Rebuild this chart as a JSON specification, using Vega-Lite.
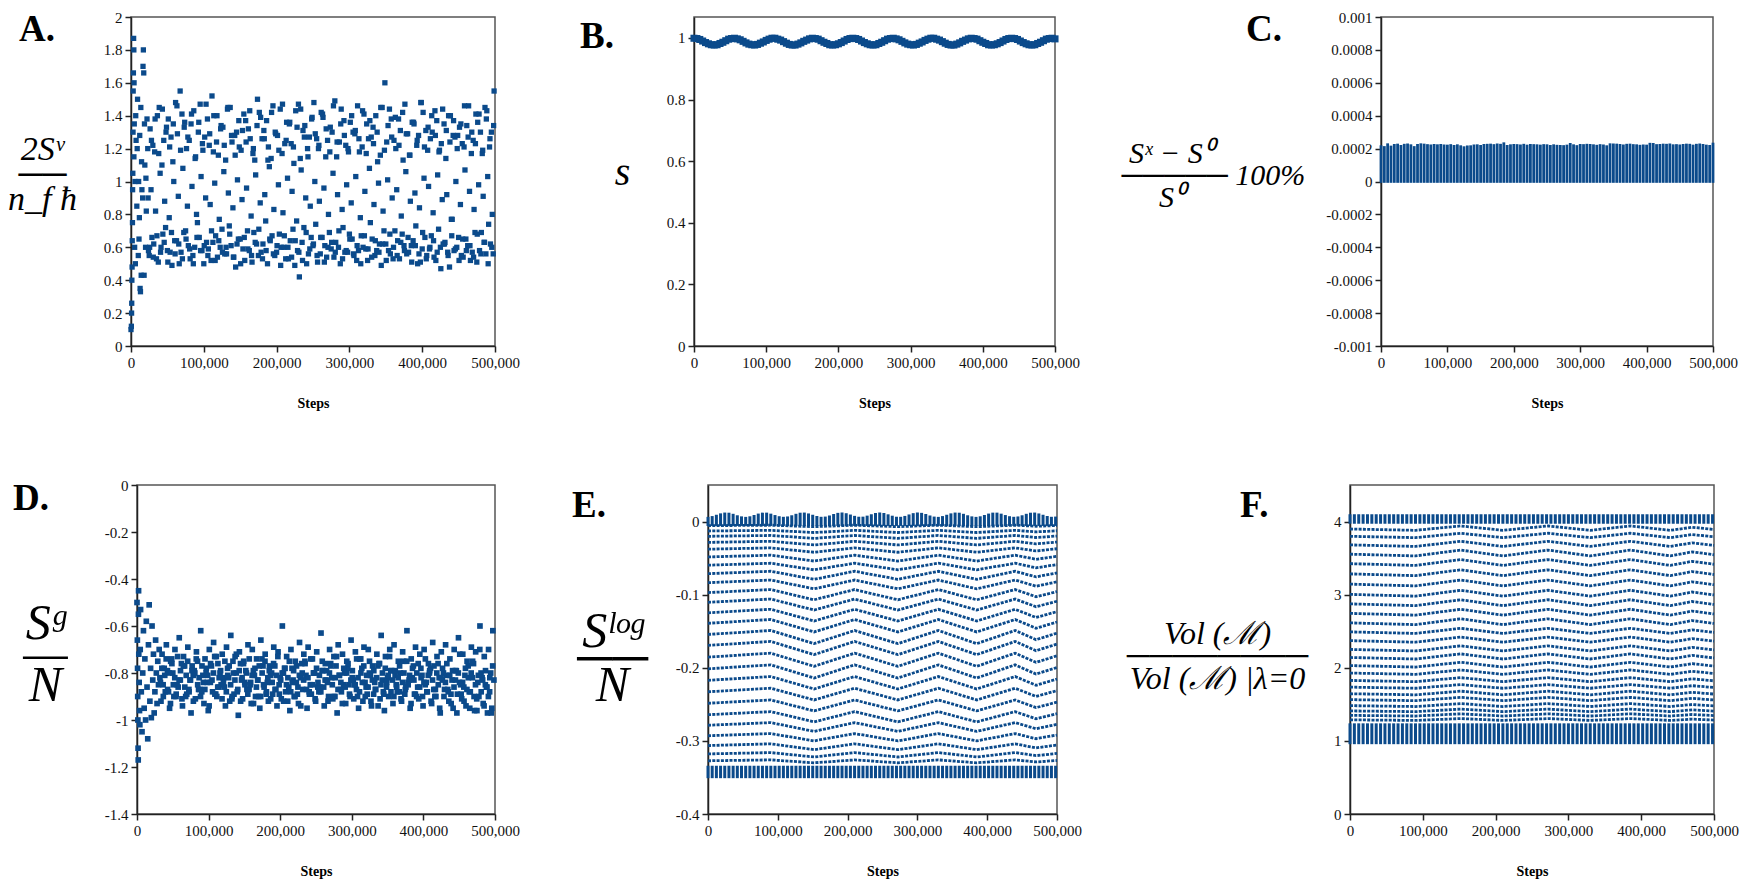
{
"$schema":"https://vega.github.io/schema/vega-lite/v6.json",
"background":"white",
"padding":{"left":0,"top":9,"right":0,"bottom":0},
"spacing":66,
"config":{
 "font":"Liberation Serif",
 "view":{"stroke":"#555","strokeWidth":1.5},
 "axis":{"grid":false,"domainColor":"#222","domainWidth":1.5,"tickColor":"#222","tickWidth":1.5,"tickSize":6,"labelFont":"Liberation Serif","labelFontSize":15,"labelColor":"#111","labelPadding":3,"labelFlush":false,"labelOverlap":false,"labelBound":false,"titleColor":"#000"},
 "axisX":{"titleFont":"Liberation Serif","titleFontWeight":"bold","titleFontSize":14,"titleY":61,"titleBaseline":"alphabetic"},
 "axisY":{"titleAngle":0,"titleFont":"Liberation Serif","titleFontWeight":"normal","titleFontStyle":"italic","titleAlign":"center","titleBaseline":"alphabetic"},
 "title":{"font":"Liberation Serif","fontWeight":"bold","fontSize":37,"anchor":"start","frame":"group","offset":0,"baseline":"alphabetic","color":"#000"},
 "square":{"color":"#0b4a8b","opacity":1},
 "rule":{"color":"#0b4a8b"},
 "line":{"color":"#0b4a8b"}
},
"datasets":{
"a":[{"x":0,"y":0.1},{"x":500,"y":0.12},{"x":800,"y":0.2},{"x":1000,"y":0.26},{"x":1200,"y":0.4},{"x":1500,"y":0.48},{"x":1700,"y":0.64},{"x":2000,"y":0.75},{"x":2200,"y":0.95},{"x":2500,"y":1.05},{"x":2800,"y":1.3},{"x":3000,"y":1.55},{"x":3300,"y":1.66},{"x":3600,"y":1.87},{"x":3900,"y":1.8},{"x":4000,"y":1.15},{"x":4200,"y":1.6},{"x":4500,"y":1.35},{"x":5000,"y":0.6},{"x":5500,"y":1.0},{"x":6000,"y":0.5},{"x":6500,"y":1.4},{"x":7000,"y":1.25},{"x":8000,"y":0.85},{"x":8500,"y":1.2},{"x":9000,"y":1.5},{"x":10000,"y":0.55},{"x":10500,"y":1.0},{"x":11000,"y":0.65},{"x":11500,"y":0.78},{"x":12000,"y":1.28},{"x":12500,"y":0.35},{"x":13000,"y":0.33},{"x":13500,"y":1.45},{"x":14000,"y":0.43},{"x":14500,"y":1.12},{"x":15000,"y":0.95},{"x":16000,"y":0.9},{"x":16500,"y":1.7},{"x":17000,"y":1.8},{"x":17500,"y":1.66},{"x":18000,"y":0.43},{"x":18500,"y":1.35},{"x":19000,"y":1.1},{"x":20000,"y":0.6},{"x":20500,"y":1.02},{"x":21000,"y":0.82},{"x":22000,"y":1.38},{"x":23000,"y":1.2},{"x":23500,"y":0.9},{"x":24000,"y":0.58},
{"x":25000,"y":0.55},{"x":26250,"y":1.32},{"x":27500,"y":0.95},{"x":28750,"y":0.66},{"x":30000,"y":1.22},
{"x":31250,"y":0.62},{"x":32500,"y":1.18},{"x":33750,"y":0.82},{"x":35000,"y":0.53},{"x":36250,"y":1.4},
{"x":37500,"y":0.51},{"x":38750,"y":1.45},{"x":40000,"y":1.05},{"x":41250,"y":0.6},{"x":42500,"y":1.1},
{"x":43750,"y":0.68},{"x":45000,"y":1.25},{"x":46250,"y":0.88},{"x":47500,"y":0.72},{"x":48750,"y":1.33},
{"x":50000,"y":0.58},{"x":51250,"y":1.38},{"x":52500,"y":0.78},{"x":53750,"y":0.57},{"x":55000,"y":1.27},
{"x":56250,"y":0.49},{"x":57500,"y":1.12},{"x":58750,"y":1.0},{"x":60000,"y":0.64},{"x":61250,"y":1.48},
{"x":62500,"y":0.64},{"x":63750,"y":1.29},{"x":65000,"y":0.91},{"x":66250,"y":0.5},{"x":67500,"y":1.55},
{"x":68750,"y":0.57},{"x":70000,"y":1.41},{"x":71250,"y":1.08},{"x":72500,"y":0.69},{"x":73750,"y":1.36},
{"x":75000,"y":0.7},{"x":76250,"y":1.2},{"x":77500,"y":0.85},{"x":78750,"y":0.61},{"x":80000,"y":1.25},
{"x":81250,"y":0.53},{"x":82500,"y":1.35},{"x":83750,"y":0.97},{"x":85000,"y":0.55},{"x":86250,"y":1.43},
{"x":87500,"y":0.6},{"x":88750,"y":1.15},{"x":90000,"y":0.8},{"x":91250,"y":0.75},{"x":92500,"y":1.3},
{"x":93750,"y":0.66},{"x":95000,"y":1.47},{"x":96250,"y":1.03},{"x":97500,"y":0.58},{"x":98750,"y":1.19},
{"x":100000,"y":0.5},{"x":101250,"y":1.27},{"x":102500,"y":0.9},{"x":103750,"y":0.63},{"x":105000,"y":1.38},
{"x":106250,"y":0.59},{"x":107500,"y":1.22},{"x":108750,"y":0.86},{"x":110000,"y":0.52},{"x":111250,"y":1.52},
{"x":112500,"y":0.63},{"x":113750,"y":1.4},{"x":115000,"y":0.99},{"x":116250,"y":0.67},{"x":117500,"y":1.24},
{"x":118750,"y":0.54},{"x":120000,"y":1.16},{"x":121250,"y":0.77},{"x":122500,"y":0.6},{"x":123750,"y":1.34},
{"x":125000,"y":0.71},{"x":126250,"y":1.33},{"x":127500,"y":1.06},{"x":128750,"y":0.56},{"x":130000,"y":1.13},
{"x":131250,"y":0.56},{"x":132500,"y":1.44},{"x":133750,"y":0.93},{"x":135000,"y":0.73},{"x":136250,"y":1.45},
{"x":137500,"y":0.61},{"x":138750,"y":1.24},{"x":140000,"y":0.84},{"x":141250,"y":0.54},{"x":142500,"y":1.28},
{"x":143750,"y":0.48},{"x":145000,"y":1.3},{"x":146250,"y":1.01},{"x":147500,"y":0.65},{"x":148750,"y":1.21},
{"x":150000,"y":0.65},{"x":151250,"y":1.19},{"x":152500,"y":0.89},{"x":153750,"y":0.59},{"x":155000,"y":1.41},
{"x":156250,"y":0.52},{"x":157500,"y":1.37},{"x":158750,"y":0.96},{"x":160000,"y":0.7},{"x":161250,"y":1.32},
{"x":162500,"y":0.58},{"x":163750,"y":1.26},{"x":165000,"y":0.79},{"x":166250,"y":0.51},{"x":167500,"y":1.17},
{"x":168750,"y":0.69},{"x":170000,"y":1.13},{"x":171250,"y":1.04},{"x":172500,"y":0.62},{"x":173750,"y":1.5},
{"x":175000,"y":0.55},{"x":176250,"y":1.42},{"x":177500,"y":0.87},{"x":178750,"y":0.57},{"x":180000,"y":1.26},
{"x":181250,"y":0.62},{"x":182500,"y":1.31},{"x":183750,"y":0.92},{"x":185000,"y":0.76},{"x":186250,"y":1.37},
{"x":187500,"y":0.5},{"x":188750,"y":1.21},{"x":190000,"y":1.09},{"x":191250,"y":0.64},{"x":192500,"y":1.14},
{"x":193750,"y":0.67},{"x":195000,"y":1.46},{"x":196250,"y":0.83},{"x":197500,"y":0.55},{"x":198750,"y":1.29},
{"x":200000,"y":0.57},{"x":201250,"y":1.28},{"x":202500,"y":0.98},{"x":203750,"y":0.68},{"x":205000,"y":1.44},
{"x":206250,"y":0.6},{"x":207500,"y":1.17},{"x":208750,"y":0.81},{"x":210000,"y":0.6},{"x":211250,"y":1.23},
{"x":212500,"y":0.53},{"x":213750,"y":1.36},{"x":215000,"y":1.02},{"x":216250,"y":0.53},{"x":217500,"y":1.35},
{"x":218750,"y":0.64},{"x":220000,"y":1.23},{"x":221250,"y":0.94},{"x":222500,"y":0.71},{"x":223750,"y":1.11},
{"x":225000,"y":0.49},{"x":226250,"y":1.43},{"x":227500,"y":0.76},{"x":228750,"y":0.58},{"x":230000,"y":1.47},
{"x":231250,"y":0.42},{"x":232500,"y":1.14},{"x":233750,"y":1.07},{"x":235000,"y":0.63},{"x":236250,"y":1.31},
{"x":237500,"y":0.72},{"x":238750,"y":1.34},{"x":240000,"y":0.9},{"x":241250,"y":0.5},{"x":242500,"y":1.2},
{"x":243750,"y":0.56},{"x":245000,"y":1.27},{"x":246250,"y":0.85},{"x":247500,"y":0.66},{"x":248750,"y":1.39},
{"x":250000,"y":0.61},{"x":251250,"y":1.48},{"x":252500,"y":1.0},{"x":253750,"y":0.74},{"x":255000,"y":1.26},
{"x":256250,"y":0.51},{"x":257500,"y":1.2},{"x":258750,"y":0.88},{"x":260000,"y":0.56},{"x":261250,"y":1.42},
{"x":262500,"y":0.66},{"x":263750,"y":1.39},{"x":265000,"y":0.96},{"x":266250,"y":0.61},{"x":267500,"y":1.15},
{"x":268750,"y":0.54},{"x":270000,"y":1.25},{"x":271250,"y":0.8},{"x":272500,"y":0.69},{"x":273750,"y":1.33},
{"x":275000,"y":0.59},{"x":276250,"y":1.3},{"x":277500,"y":1.05},{"x":278750,"y":0.54},{"x":280000,"y":1.49},
{"x":281250,"y":0.63},{"x":282500,"y":1.15},{"x":283750,"y":0.92},{"x":285000,"y":0.6},{"x":286250,"y":1.24},
{"x":287500,"y":0.5},{"x":288750,"y":1.44},{"x":290000,"y":0.83},{"x":291250,"y":0.72},{"x":292500,"y":1.37},
{"x":293750,"y":0.57},{"x":295000,"y":1.22},{"x":296250,"y":0.98},{"x":297500,"y":0.57},{"x":298750,"y":1.18},
{"x":300000,"y":0.68},{"x":301250,"y":1.36},{"x":302500,"y":0.87},{"x":303750,"y":0.65},{"x":305000,"y":1.3},
{"x":306250,"y":0.55},{"x":307500,"y":1.29},{"x":308750,"y":1.03},{"x":310000,"y":0.52},{"x":311250,"y":1.46},
{"x":312500,"y":0.58},{"x":313750,"y":1.18},{"x":315000,"y":0.78},{"x":316250,"y":0.67},{"x":317500,"y":1.21},
{"x":318750,"y":0.6},{"x":320000,"y":1.41},{"x":321250,"y":0.94},{"x":322500,"y":0.59},{"x":323750,"y":1.35},
{"x":325000,"y":0.52},{"x":326250,"y":1.26},{"x":327500,"y":1.08},{"x":328750,"y":0.75},{"x":330000,"y":1.27},
{"x":331250,"y":0.65},{"x":332500,"y":1.33},{"x":333750,"y":0.86},{"x":335000,"y":0.55},{"x":336250,"y":1.4},
{"x":337500,"y":0.58},{"x":338750,"y":1.12},{"x":340000,"y":0.99},{"x":341250,"y":0.62},{"x":342500,"y":1.16},
{"x":343750,"y":0.49},{"x":345000,"y":1.45},{"x":346250,"y":0.82},{"x":347500,"y":0.7},{"x":348750,"y":1.6},
{"x":350000,"y":0.62},{"x":351250,"y":1.24},{"x":352500,"y":1.01},{"x":353750,"y":0.58},{"x":355000,"y":1.44},
{"x":356250,"y":0.56},{"x":357500,"y":1.38},{"x":358750,"y":0.9},{"x":360000,"y":0.53},{"x":361250,"y":1.25},
{"x":362500,"y":0.7},{"x":363750,"y":1.2},{"x":365000,"y":0.95},{"x":366250,"y":0.64},{"x":367500,"y":1.38},
{"x":368750,"y":0.53},{"x":370000,"y":1.31},{"x":371250,"y":0.79},{"x":372500,"y":0.68},{"x":373750,"y":1.13},
{"x":375000,"y":0.61},{"x":376250,"y":1.47},{"x":377500,"y":1.06},{"x":378750,"y":0.56},{"x":380000,"y":1.29},
{"x":381250,"y":0.57},{"x":382500,"y":1.16},{"x":383750,"y":0.88},{"x":385000,"y":0.61},{"x":386250,"y":1.36},
{"x":387500,"y":0.64},{"x":388750,"y":1.35},{"x":390000,"y":0.93},{"x":391250,"y":0.73},{"x":392500,"y":1.22},
{"x":393750,"y":0.5},{"x":395000,"y":1.28},{"x":396250,"y":0.84},{"x":397500,"y":0.51},{"x":398750,"y":1.48},
{"x":400000,"y":0.59},{"x":401250,"y":1.42},{"x":402500,"y":1.02},{"x":403750,"y":0.66},{"x":405000,"y":1.31},
{"x":406250,"y":0.55},{"x":407500,"y":1.19},{"x":408750,"y":0.97},{"x":410000,"y":0.59},{"x":411250,"y":1.26},
{"x":412500,"y":0.67},{"x":413750,"y":1.3},{"x":415000,"y":0.81},{"x":416250,"y":0.54},{"x":417500,"y":1.43},
{"x":418750,"y":0.52},{"x":420000,"y":1.37},{"x":421250,"y":1.04},{"x":422500,"y":0.71},{"x":423750,"y":1.19},
{"x":425000,"y":0.6},{"x":426250,"y":1.23},{"x":427500,"y":0.89},{"x":428750,"y":0.62},{"x":430000,"y":1.35},
{"x":431250,"y":0.63},{"x":432500,"y":1.14},{"x":433750,"y":0.92},{"x":435000,"y":0.57},{"x":436250,"y":1.4},
{"x":437500,"y":0.48},{"x":438750,"y":1.4},{"x":440000,"y":0.77},{"x":441250,"y":0.77},{"x":442500,"y":1.28},
{"x":443750,"y":0.58},{"x":445000,"y":1.27},{"x":446250,"y":1.0},{"x":447500,"y":0.6},{"x":448750,"y":1.28},
{"x":450000,"y":0.66},{"x":451250,"y":1.33},{"x":452500,"y":0.86},{"x":453750,"y":0.55},{"x":455000,"y":1.23},
{"x":456250,"y":0.54},{"x":457500,"y":1.21},{"x":458750,"y":1.07},{"x":460000,"y":0.65},{"x":461250,"y":1.34},
{"x":462500,"y":0.61},{"x":463750,"y":1.46},{"x":465000,"y":0.94},{"x":466250,"y":0.52},{"x":467500,"y":1.17},
{"x":468750,"y":0.57},{"x":470000,"y":1.25},{"x":471250,"y":0.83},{"x":472500,"y":0.69},{"x":473750,"y":1.41},
{"x":475000,"y":0.51},{"x":476250,"y":1.36},{"x":477500,"y":0.98},{"x":478750,"y":0.58},{"x":480000,"y":1.3},
{"x":481250,"y":0.69},{"x":482500,"y":1.17},{"x":483750,"y":0.91},{"x":485000,"y":0.63},{"x":486250,"y":1.45},
{"x":487500,"y":0.56},{"x":488750,"y":1.43},{"x":490000,"y":1.03},{"x":491250,"y":0.74},{"x":492500,"y":1.21},
{"x":493750,"y":0.62},{"x":495000,"y":1.3},{"x":496250,"y":0.8},{"x":497500,"y":0.56},{"x":498750,"y":1.55},
{"x":25600,"y":0.6},{"x":28100,"y":1.25},{"x":30600,"y":0.54},{"x":33100,"y":1.38},{"x":35600,"y":0.67},{"x":38100,"y":1.17},{"x":40600,"y":0.57},{"x":43100,"y":1.44},{"x":45600,"y":0.63},{"x":48100,"y":1.3},
{"x":50600,"y":0.51},{"x":53100,"y":1.21},{"x":55600,"y":0.69},{"x":58100,"y":1.35},{"x":60600,"y":0.56},{"x":63100,"y":1.46},{"x":65600,"y":0.62},{"x":68100,"y":1.19},{"x":70600,"y":0.53},{"x":73100,"y":1.33},
{"x":75600,"y":0.65},{"x":78100,"y":1.27},{"x":80600,"y":0.59},{"x":83100,"y":1.41},{"x":85600,"y":0.5},{"x":88100,"y":1.14},{"x":90600,"y":0.66},{"x":93100,"y":1.36},{"x":95600,"y":0.58},{"x":98100,"y":1.23},
{"x":100600,"y":0.61},{"x":103100,"y":1.47},{"x":105600,"y":0.55},{"x":108100,"y":1.29},{"x":110600,"y":0.7},{"x":113100,"y":1.18},{"x":115600,"y":0.52},{"x":118100,"y":1.4},{"x":120600,"y":0.64},{"x":123100,"y":1.32},
{"x":125600,"y":0.57},{"x":128100,"y":1.22},{"x":130600,"y":0.6},{"x":133100,"y":1.45},{"x":135600,"y":0.68},{"x":138100,"y":1.28},{"x":140600,"y":0.54},{"x":143100,"y":1.16},{"x":145600,"y":0.62},{"x":148100,"y":1.37},
{"x":150600,"y":0.5},{"x":153100,"y":1.31},{"x":155600,"y":0.66},{"x":158100,"y":1.24},{"x":160600,"y":0.59},{"x":163100,"y":1.43},{"x":165600,"y":0.55},{"x":168100,"y":1.2},{"x":170600,"y":0.63},{"x":173100,"y":1.34},
{"x":175600,"y":0.71},{"x":178100,"y":1.39},{"x":180600,"y":0.53},{"x":183100,"y":1.26},{"x":185600,"y":0.58},{"x":188100,"y":1.13},{"x":190600,"y":0.65},{"x":193100,"y":1.42},{"x":195600,"y":0.56},{"x":198100,"y":1.3},
{"x":200600,"y":0.61},{"x":203100,"y":1.19},{"x":205600,"y":0.49},{"x":208100,"y":1.47},{"x":210600,"y":0.67},{"x":213100,"y":1.25},{"x":215600,"y":0.6},{"x":218100,"y":1.36},{"x":220600,"y":0.54},{"x":223100,"y":1.21},
{"x":225600,"y":0.64},{"x":228100,"y":1.33},{"x":230600,"y":0.57},{"x":233100,"y":1.44},{"x":235600,"y":0.52},{"x":238100,"y":1.27},{"x":240600,"y":0.69},{"x":243100,"y":1.15},{"x":245600,"y":0.59},{"x":248100,"y":1.38},
{"x":250600,"y":0.62},{"x":253100,"y":1.29},{"x":255600,"y":0.55},{"x":258100,"y":1.22},{"x":260600,"y":0.66},{"x":263100,"y":1.41},{"x":265600,"y":0.51},{"x":268100,"y":1.32},{"x":270600,"y":0.6},{"x":273100,"y":1.18},
{"x":275600,"y":0.63},{"x":278100,"y":1.46},{"x":280600,"y":0.57},{"x":283100,"y":1.24},{"x":285600,"y":0.7},{"x":288100,"y":1.35},{"x":290600,"y":0.53},{"x":293100,"y":1.28},{"x":295600,"y":0.58},{"x":298100,"y":1.2},
{"x":300600,"y":0.65},{"x":303100,"y":1.4},{"x":305600,"y":0.56},{"x":308100,"y":1.31},{"x":310600,"y":0.61},{"x":313100,"y":1.26},{"x":315600,"y":0.5},{"x":318100,"y":1.43},{"x":320600,"y":0.67},{"x":323100,"y":1.17},
{"x":325600,"y":0.59},{"x":328100,"y":1.37},{"x":330600,"y":0.54},{"x":333100,"y":1.23},{"x":335600,"y":0.64},{"x":338100,"y":1.3},{"x":340600,"y":0.57},{"x":343100,"y":1.45},{"x":345600,"y":0.62},{"x":348100,"y":1.19},
{"x":350600,"y":0.52},{"x":353100,"y":1.34},{"x":355600,"y":0.68},{"x":358100,"y":1.27},{"x":360600,"y":0.6},{"x":363100,"y":1.39},{"x":365600,"y":0.55},{"x":368100,"y":1.22},{"x":370600,"y":0.63},{"x":373100,"y":1.42},
{"x":375600,"y":0.58},{"x":378100,"y":1.29},{"x":380600,"y":0.66},{"x":383100,"y":1.16},{"x":385600,"y":0.51},{"x":388100,"y":1.36},{"x":390600,"y":0.61},{"x":393100,"y":1.25},{"x":395600,"y":0.56},{"x":398100,"y":1.48},
{"x":400600,"y":0.69},{"x":403100,"y":1.21},{"x":405600,"y":0.53},{"x":408100,"y":1.33},{"x":410600,"y":0.6},{"x":413100,"y":1.4},{"x":415600,"y":0.64},{"x":418100,"y":1.28},{"x":420600,"y":0.57},{"x":423100,"y":1.18},
{"x":425600,"y":0.47},{"x":428100,"y":1.44},{"x":430600,"y":0.62},{"x":433100,"y":1.31},{"x":435600,"y":0.55},{"x":438100,"y":1.24},{"x":440600,"y":0.67},{"x":443100,"y":1.37},{"x":445600,"y":0.59},{"x":448100,"y":1.2},
{"x":450600,"y":0.52},{"x":453100,"y":1.35},{"x":455600,"y":0.65},{"x":458100,"y":1.46},{"x":460600,"y":0.58},{"x":463100,"y":1.27},{"x":465600,"y":0.61},{"x":468100,"y":1.3},{"x":470600,"y":0.54},{"x":473100,"y":1.23},
{"x":475600,"y":0.68},{"x":478100,"y":1.41},{"x":480600,"y":0.56},{"x":483100,"y":1.19},{"x":485600,"y":0.63},{"x":488100,"y":1.38},{"x":490600,"y":0.5},{"x":493100,"y":1.26},{"x":495600,"y":0.6},{"x":498100,"y":1.34}],
"b":[{"x":0,"y":0.999},{"x":4000,"y":0.998},{"x":8000,"y":0.995},{"x":12000,"y":0.99},{"x":16000,"y":0.985},{"x":20000,"y":0.981},{"x":24000,"y":0.978},{"x":28000,"y":0.977},{"x":32000,"y":0.978},{"x":36000,"y":0.982},{"x":40000,"y":0.986},{"x":44000,"y":0.991},{"x":48000,"y":0.996},{"x":52000,"y":0.998},{"x":56000,"y":0.999},{"x":60000,"y":0.997},{"x":64000,"y":0.994},{"x":68000,"y":0.989},{"x":72000,"y":0.984},{"x":76000,"y":0.98},{"x":80000,"y":0.978},{"x":84000,"y":0.977},{"x":88000,"y":0.979},{"x":92000,"y":0.983},{"x":96000,"y":0.987},{"x":100000,"y":0.992},{"x":104000,"y":0.996},{"x":108000,"y":0.999},{"x":112000,"y":0.999},{"x":116000,"y":0.996},{"x":120000,"y":0.993},{"x":124000,"y":0.988},{"x":128000,"y":0.983},{"x":132000,"y":0.979},{"x":136000,"y":0.977},{"x":140000,"y":0.977},{"x":144000,"y":0.98},{"x":148000,"y":0.984},{"x":152000,"y":0.989},{"x":156000,"y":0.993},{"x":160000,"y":0.997},{"x":164000,"y":0.999},{"x":168000,"y":0.998},{"x":172000,"y":0.996},{"x":176000,"y":0.991},{"x":180000,"y":0.986},{"x":184000,"y":0.982},{"x":188000,"y":0.978},{"x":192000,"y":0.977},{"x":196000,"y":0.978},{"x":200000,"y":0.981},{"x":204000,"y":0.985},{"x":208000,"y":0.99},{"x":212000,"y":0.995},{"x":216000,"y":0.998},{"x":220000,"y":0.999},{"x":224000,"y":0.998},{"x":228000,"y":0.995},{"x":232000,"y":0.99},{"x":236000,"y":0.985},{"x":240000,"y":0.981},{"x":244000,"y":0.978},{"x":248000,"y":0.977},{"x":252000,"y":0.978},{"x":256000,"y":0.982},{"x":260000,"y":0.986},{"x":264000,"y":0.991},{"x":268000,"y":0.996},{"x":272000,"y":0.998},{"x":276000,"y":0.999},{"x":280000,"y":0.997},{"x":284000,"y":0.994},{"x":288000,"y":0.989},{"x":292000,"y":0.984},{"x":296000,"y":0.98},{"x":300000,"y":0.978},{"x":304000,"y":0.977},{"x":308000,"y":0.979},{"x":312000,"y":0.983},{"x":316000,"y":0.987},{"x":320000,"y":0.992},{"x":324000,"y":0.996},{"x":328000,"y":0.999},{"x":332000,"y":0.999},{"x":336000,"y":0.996},{"x":340000,"y":0.993},{"x":344000,"y":0.988},{"x":348000,"y":0.983},{"x":352000,"y":0.979},{"x":356000,"y":0.977},{"x":360000,"y":0.977},{"x":364000,"y":0.98},{"x":368000,"y":0.984},{"x":372000,"y":0.989},{"x":376000,"y":0.993},{"x":380000,"y":0.997},{"x":384000,"y":0.999},{"x":388000,"y":0.998},{"x":392000,"y":0.996},{"x":396000,"y":0.991},{"x":400000,"y":0.986},{"x":404000,"y":0.982},{"x":408000,"y":0.978},{"x":412000,"y":0.977},{"x":416000,"y":0.978},{"x":420000,"y":0.981},{"x":424000,"y":0.985},{"x":428000,"y":0.99},{"x":432000,"y":0.995},{"x":436000,"y":0.998},{"x":440000,"y":0.999},{"x":444000,"y":0.998},{"x":448000,"y":0.995},{"x":452000,"y":0.99},{"x":456000,"y":0.985},{"x":460000,"y":0.981},{"x":464000,"y":0.978},{"x":468000,"y":0.977},{"x":472000,"y":0.978},{"x":476000,"y":0.982},{"x":480000,"y":0.986},{"x":484000,"y":0.991},{"x":488000,"y":0.996},{"x":492000,"y":0.998},{"x":496000,"y":0.999},{"x":500000,"y":0.997}],
"c":[{"x":0,"y":0.00022},{"x":5000,"y":0.000215},{"x":10000,"y":0.000232},{"x":15000,"y":0.000218},{"x":20000,"y":0.000228},{"x":25000,"y":0.00023},{"x":30000,"y":0.000222},{"x":35000,"y":0.000229},{"x":40000,"y":0.000231},{"x":45000,"y":0.000226},{"x":50000,"y":0.000215},{"x":55000,"y":0.000228},{"x":60000,"y":0.000232},{"x":65000,"y":0.00023},{"x":70000,"y":0.000227},{"x":75000,"y":0.000225},{"x":80000,"y":0.000228},{"x":85000,"y":0.000226},{"x":90000,"y":0.000228},{"x":95000,"y":0.000225},{"x":100000,"y":0.000224},{"x":105000,"y":0.000227},{"x":110000,"y":0.000222},{"x":115000,"y":0.000226},{"x":120000,"y":0.00022},{"x":125000,"y":0.000214},{"x":130000,"y":0.000219},{"x":135000,"y":0.00022},{"x":140000,"y":0.000225},{"x":145000,"y":0.000226},{"x":150000,"y":0.000222},{"x":155000,"y":0.000228},{"x":160000,"y":0.000229},{"x":165000,"y":0.00023},{"x":170000,"y":0.000227},{"x":175000,"y":0.000231},{"x":180000,"y":0.000229},{"x":185000,"y":0.000238},{"x":190000,"y":0.000222},{"x":195000,"y":0.000226},{"x":200000,"y":0.000228},{"x":205000,"y":0.000227},{"x":210000,"y":0.000225},{"x":215000,"y":0.000229},{"x":220000,"y":0.000224},{"x":225000,"y":0.000228},{"x":230000,"y":0.000227},{"x":235000,"y":0.000226},{"x":240000,"y":0.000224},{"x":245000,"y":0.000227},{"x":250000,"y":0.000226},{"x":255000,"y":0.000222},{"x":260000,"y":0.000226},{"x":265000,"y":0.000223},{"x":270000,"y":0.000222},{"x":275000,"y":0.000221},{"x":280000,"y":0.000224},{"x":285000,"y":0.000234},{"x":290000,"y":0.000226},{"x":295000,"y":0.000221},{"x":300000,"y":0.000228},{"x":305000,"y":0.000227},{"x":310000,"y":0.000229},{"x":315000,"y":0.000228},{"x":320000,"y":0.000226},{"x":325000,"y":0.000223},{"x":330000,"y":0.000227},{"x":335000,"y":0.000225},{"x":340000,"y":0.00022},{"x":345000,"y":0.000232},{"x":350000,"y":0.000231},{"x":355000,"y":0.00023},{"x":360000,"y":0.000228},{"x":365000,"y":0.000225},{"x":370000,"y":0.000229},{"x":375000,"y":0.00023},{"x":380000,"y":0.000227},{"x":385000,"y":0.000226},{"x":390000,"y":0.000223},{"x":395000,"y":0.000225},{"x":400000,"y":0.000224},{"x":405000,"y":0.000235},{"x":410000,"y":0.000234},{"x":415000,"y":0.000227},{"x":420000,"y":0.000228},{"x":425000,"y":0.00023},{"x":430000,"y":0.000229},{"x":435000,"y":0.000231},{"x":440000,"y":0.000226},{"x":445000,"y":0.000227},{"x":450000,"y":0.000225},{"x":455000,"y":0.000228},{"x":460000,"y":0.00023},{"x":465000,"y":0.000229},{"x":470000,"y":0.000224},{"x":475000,"y":0.000229},{"x":480000,"y":0.000231},{"x":485000,"y":0.000228},{"x":490000,"y":0.000224},{"x":495000,"y":0.000222},{"x":500000,"y":0.000236}],
"d":[{"x":0,"y":-0.5},{"x":500,"y":-0.66},{"x":800,"y":-0.78},{"x":1000,"y":-0.9},{"x":1200,"y":-1.0},{"x":1500,"y":-1.12},{"x":1700,"y":-1.17},{"x":2000,"y":-0.55},{"x":2200,"y":-0.45},{"x":2500,"y":-0.72},{"x":3000,"y":-0.84},{"x":3500,"y":-0.96},{"x":4000,"y":-1.02},{"x":4500,"y":-0.7},{"x":5000,"y":-0.53},{"x":6000,"y":-0.88},{"x":7000,"y":-1.05},{"x":8000,"y":-0.8},{"x":9000,"y":-0.62},{"x":10000,"y":-0.95},{"x":11000,"y":-0.74},{"x":12000,"y":-1.0},{"x":13000,"y":-0.58},{"x":14000,"y":-0.86},{"x":15000,"y":-1.08},{"x":16000,"y":-0.68},{"x":17000,"y":-0.51},{"x":18000,"y":-0.92},{"x":19000,"y":-0.78},{"x":20000,"y":-0.99},{"x":21000,"y":-0.6},{"x":22000,"y":-0.83},{"x":23000,"y":-0.72},{"x":24000,"y":-0.97},{"x":25000,"y":-0.88},{"x":26000,"y":-0.66},{"x":27000,"y":-0.8},{"x":28000,"y":-0.93},{"x":29000,"y":-0.75},{"x":30000,"y":-0.85},{"x":31000,"y":-0.7},
{"x":32000,"y":-0.82},{"x":33500,"y":-0.92},{"x":35000,"y":-0.72},{"x":36500,"y":-0.85},
{"x":38000,"y":-0.78},{"x":39500,"y":-0.88},{"x":41000,"y":-0.68},{"x":42500,"y":-0.79},
{"x":44000,"y":-0.88},{"x":45500,"y":-0.95},{"x":47000,"y":-0.75},{"x":48500,"y":-0.74},
{"x":50000,"y":-0.8},{"x":51500,"y":-0.9},{"x":53000,"y":-0.7},{"x":54500,"y":-0.9},
{"x":56000,"y":-0.85},{"x":57500,"y":-0.86},{"x":59000,"y":-0.65},{"x":60500,"y":-0.83},
{"x":62000,"y":-0.76},{"x":63500,"y":-0.94},{"x":65000,"y":-0.73},{"x":66500,"y":-0.77},
{"x":68000,"y":-0.9},{"x":69500,"y":-0.89},{"x":71000,"y":-0.69},{"x":72500,"y":-0.87},
{"x":74000,"y":-0.83},{"x":75500,"y":-0.97},{"x":77000,"y":-0.77},{"x":78500,"y":-0.81},
{"x":80000,"y":-0.79},{"x":81500,"y":-0.91},{"x":83000,"y":-0.71},{"x":84500,"y":-0.75},
{"x":86000,"y":-0.87},{"x":87500,"y":-0.87},{"x":89000,"y":-0.62},{"x":90500,"y":-0.88},
{"x":92000,"y":-0.81},{"x":93500,"y":-0.93},{"x":95000,"y":-0.74},{"x":96500,"y":-0.8},
{"x":98000,"y":-0.84},{"x":99500,"y":-0.96},{"x":101000,"y":-0.7},{"x":102500,"y":-0.84},
{"x":104000,"y":-0.77},{"x":105500,"y":-0.88},{"x":107000,"y":-0.67},{"x":108500,"y":-0.73},
{"x":110000,"y":-0.89},{"x":111500,"y":-0.9},{"x":113000,"y":-0.76},{"x":114500,"y":-0.86},
{"x":116000,"y":-0.8},{"x":117500,"y":-0.85},{"x":119000,"y":-0.72},{"x":120500,"y":-0.82},
{"x":122000,"y":-0.86},{"x":123500,"y":-0.94},{"x":125000,"y":-0.69},{"x":126500,"y":-0.78},
{"x":128000,"y":-0.82},{"x":129500,"y":-0.92},{"x":131000,"y":-0.64},{"x":132500,"y":-0.91},
{"x":134000,"y":-0.75},{"x":135500,"y":-0.89},{"x":137000,"y":-0.73},{"x":138500,"y":-0.8},
{"x":140000,"y":-0.88},{"x":141500,"y":-0.98},{"x":143000,"y":-0.71},{"x":144500,"y":-0.76},
{"x":146000,"y":-0.83},{"x":147500,"y":-0.91},{"x":149000,"y":-0.75},{"x":150500,"y":-0.84},
{"x":152000,"y":-0.79},{"x":153500,"y":-0.87},{"x":155000,"y":-0.68},{"x":156500,"y":-0.87},
{"x":158000,"y":-0.85},{"x":159500,"y":-0.93},{"x":161000,"y":-0.7},{"x":162500,"y":-0.79},
{"x":164000,"y":-0.81},{"x":165500,"y":-0.9},{"x":167000,"y":-0.74},{"x":168500,"y":-0.83},
{"x":170000,"y":-0.9},{"x":171500,"y":-0.95},{"x":173000,"y":-0.66},{"x":174500,"y":-0.74},
{"x":176000,"y":-0.77},{"x":177500,"y":-0.86},{"x":179000,"y":-0.72},{"x":180500,"y":-0.89},
{"x":182000,"y":-0.84},{"x":183500,"y":-0.92},{"x":185000,"y":-0.77},{"x":186500,"y":-0.81},
{"x":188000,"y":-0.8},{"x":189500,"y":-0.89},{"x":191000,"y":-0.69},{"x":192500,"y":-0.77},
{"x":194000,"y":-0.87},{"x":195500,"y":-0.94},{"x":197000,"y":-0.71},{"x":198500,"y":-0.85},
{"x":200000,"y":-0.82},{"x":201500,"y":-0.91},{"x":203000,"y":-0.6},{"x":204500,"y":-0.8},
{"x":206000,"y":-0.78},{"x":207500,"y":-0.88},{"x":209000,"y":-0.73},{"x":210500,"y":-0.92},
{"x":212000,"y":-0.86},{"x":213500,"y":-0.96},{"x":215000,"y":-0.7},{"x":216500,"y":-0.78},
{"x":218000,"y":-0.83},{"x":219500,"y":-0.9},{"x":221000,"y":-0.75},{"x":222500,"y":-0.84},
{"x":224000,"y":-0.89},{"x":225500,"y":-0.93},{"x":227000,"y":-0.67},{"x":228500,"y":-0.82},
{"x":230000,"y":-0.76},{"x":231500,"y":-0.87},{"x":233000,"y":-0.72},{"x":234500,"y":-0.75},
{"x":236000,"y":-0.81},{"x":237500,"y":-0.95},{"x":239000,"y":-0.69},{"x":240500,"y":-0.88},
{"x":242000,"y":-0.85},{"x":243500,"y":-0.89},{"x":245000,"y":-0.74},{"x":246500,"y":-0.8},
{"x":248000,"y":-0.8},{"x":249500,"y":-0.92},{"x":251000,"y":-0.71},{"x":252500,"y":-0.86},
{"x":254000,"y":-0.88},{"x":255500,"y":-0.86},{"x":257000,"y":-0.63},{"x":258500,"y":-0.79},
{"x":260000,"y":-0.79},{"x":261500,"y":-0.94},{"x":263000,"y":-0.76},{"x":264500,"y":-0.83},
{"x":266000,"y":-0.84},{"x":267500,"y":-0.9},{"x":269000,"y":-0.7},{"x":270500,"y":-0.76},
{"x":272000,"y":-0.82},{"x":273500,"y":-0.91},{"x":275000,"y":-0.73},{"x":276500,"y":-0.9},
{"x":278000,"y":-0.77},{"x":279500,"y":-0.97},{"x":281000,"y":-0.68},{"x":282500,"y":-0.81},
{"x":284000,"y":-0.87},{"x":285500,"y":-0.88},{"x":287000,"y":-0.72},{"x":288500,"y":-0.85},
{"x":290000,"y":-0.8},{"x":291500,"y":-0.93},{"x":293000,"y":-0.75},{"x":294500,"y":-0.78},
{"x":296000,"y":-0.85},{"x":297500,"y":-0.9},{"x":299000,"y":-0.66},{"x":300500,"y":-0.82},
{"x":302000,"y":-0.83},{"x":303500,"y":-0.85},{"x":305000,"y":-0.71},{"x":306500,"y":-0.87},
{"x":308000,"y":-0.9},{"x":309500,"y":-0.95},{"x":311000,"y":-0.74},{"x":312500,"y":-0.74},
{"x":314000,"y":-0.78},{"x":315500,"y":-0.92},{"x":317000,"y":-0.69},{"x":318500,"y":-0.84},
{"x":320000,"y":-0.86},{"x":321500,"y":-0.89},{"x":323000,"y":-0.7},{"x":324500,"y":-0.8},
{"x":326000,"y":-0.81},{"x":327500,"y":-0.94},{"x":329000,"y":-0.77},{"x":330500,"y":-0.89},
{"x":332000,"y":-0.84},{"x":333500,"y":-0.87},{"x":335000,"y":-0.72},{"x":336500,"y":-0.77},
{"x":338000,"y":-0.76},{"x":339500,"y":-0.91},{"x":341000,"y":-0.64},{"x":342500,"y":-0.83},
{"x":344000,"y":-0.88},{"x":345500,"y":-0.96},{"x":347000,"y":-0.73},{"x":348500,"y":-0.86},
{"x":350000,"y":-0.82},{"x":351500,"y":-0.9},{"x":353000,"y":-0.7},{"x":354500,"y":-0.79},
{"x":356000,"y":-0.79},{"x":357500,"y":-0.93},{"x":359000,"y":-0.68},{"x":360500,"y":-0.81},
{"x":362000,"y":-0.85},{"x":363500,"y":-0.88},{"x":365000,"y":-0.75},{"x":366500,"y":-0.88},
{"x":368000,"y":-0.8},{"x":369500,"y":-0.92},{"x":371000,"y":-0.71},{"x":372500,"y":-0.75},
{"x":374000,"y":-0.89},{"x":375500,"y":-0.86},{"x":377000,"y":-0.62},{"x":378500,"y":-0.84},
{"x":380000,"y":-0.83},{"x":381500,"y":-0.95},{"x":383000,"y":-0.74},{"x":384500,"y":-0.82},
{"x":386000,"y":-0.77},{"x":387500,"y":-0.89},{"x":389000,"y":-0.69},{"x":390500,"y":-0.9},
{"x":392000,"y":-0.86},{"x":393500,"y":-0.91},{"x":395000,"y":-0.72},{"x":396500,"y":-0.78},
{"x":398000,"y":-0.81},{"x":399500,"y":-0.94},{"x":401000,"y":-0.7},{"x":402500,"y":-0.85},
{"x":404000,"y":-0.84},{"x":405500,"y":-0.88},{"x":407000,"y":-0.76},{"x":408500,"y":-0.8},
{"x":410000,"y":-0.78},{"x":411500,"y":-0.93},{"x":413000,"y":-0.67},{"x":414500,"y":-0.87},
{"x":416000,"y":-0.9},{"x":417500,"y":-0.9},{"x":419000,"y":-0.73},{"x":420500,"y":-0.76},
{"x":422000,"y":-0.82},{"x":423500,"y":-0.97},{"x":425000,"y":-0.71},{"x":426500,"y":-0.83},
{"x":428000,"y":-0.8},{"x":429500,"y":-0.87},{"x":431000,"y":-0.68},{"x":432500,"y":-0.81},
{"x":434000,"y":-0.87},{"x":435500,"y":-0.92},{"x":437000,"y":-0.74},{"x":438500,"y":-0.89},
{"x":440000,"y":-0.83},{"x":441500,"y":-0.95},{"x":443000,"y":-0.7},{"x":444500,"y":-0.79},
{"x":446000,"y":-0.79},{"x":447500,"y":-0.89},{"x":449000,"y":-0.65},{"x":450500,"y":-0.84},
{"x":452000,"y":-0.85},{"x":453500,"y":-0.91},{"x":455000,"y":-0.72},{"x":456500,"y":-0.86},
{"x":458000,"y":-0.81},{"x":459500,"y":-0.94},{"x":461000,"y":-0.75},{"x":462500,"y":-0.77},
{"x":464000,"y":-0.88},{"x":465500,"y":-0.88},{"x":467000,"y":-0.69},{"x":468500,"y":-0.82},
{"x":470000,"y":-0.76},{"x":471500,"y":-0.96},{"x":473000,"y":-0.71},{"x":474500,"y":-0.91},
{"x":476000,"y":-0.84},{"x":477500,"y":-0.9},{"x":479000,"y":-0.6},{"x":480500,"y":-0.8},
{"x":482000,"y":-0.82},{"x":483500,"y":-0.93},{"x":485000,"y":-0.73},{"x":486500,"y":-0.85},
{"x":488000,"y":-0.86},{"x":489500,"y":-0.97},{"x":491000,"y":-0.7},{"x":492500,"y":-0.88},
{"x":494000,"y":-0.8},{"x":495500,"y":-0.95},{"x":497000,"y":-0.62},{"x":498500,"y":-0.83},
{"x":32750,"y":-0.84},{"x":34750,"y":-0.78},{"x":36750,"y":-0.9},{"x":38750,"y":-0.81},{"x":40750,"y":-0.74},{"x":42750,"y":-0.87},{"x":44750,"y":-0.8},{"x":46750,"y":-0.93},{"x":48750,"y":-0.76},{"x":50750,"y":-0.85},{"x":52750,"y":-0.82},{"x":54750,"y":-0.89},{"x":56750,"y":-0.73},{"x":58750,"y":-0.83},{"x":60750,"y":-0.79},{"x":62750,"y":-0.91},{"x":64750,"y":-0.77},{"x":66750,"y":-0.86},{"x":68750,"y":-0.81},{"x":70750,"y":-0.75},
{"x":72750,"y":-0.88},{"x":74750,"y":-0.83},{"x":76750,"y":-0.79},{"x":78750,"y":-0.92},{"x":80750,"y":-0.8},{"x":82750,"y":-0.74},{"x":84750,"y":-0.85},{"x":86750,"y":-0.82},{"x":88750,"y":-0.9},{"x":90750,"y":-0.77},{"x":92750,"y":-0.84},{"x":94750,"y":-0.87},{"x":96750,"y":-0.78},{"x":98750,"y":-0.81},{"x":100750,"y":-0.94},{"x":102750,"y":-0.76},{"x":104750,"y":-0.83},{"x":106750,"y":-0.8},{"x":108750,"y":-0.89},{"x":110750,"y":-0.73},
{"x":112750,"y":-0.86},{"x":114750,"y":-0.82},{"x":116750,"y":-0.79},{"x":118750,"y":-0.91},{"x":120750,"y":-0.84},{"x":122750,"y":-0.75},{"x":124750,"y":-0.88},{"x":126750,"y":-0.81},{"x":128750,"y":-0.77},{"x":130750,"y":-0.85},{"x":132750,"y":-0.9},{"x":134750,"y":-0.8},{"x":136750,"y":-0.83},{"x":138750,"y":-0.72},{"x":140750,"y":-0.87},{"x":142750,"y":-0.79},{"x":144750,"y":-0.92},{"x":146750,"y":-0.82},{"x":148750,"y":-0.76},{"x":150750,"y":-0.85},
{"x":152750,"y":-0.8},{"x":154750,"y":-0.89},{"x":156750,"y":-0.74},{"x":158750,"y":-0.84},{"x":160750,"y":-0.81},{"x":162750,"y":-0.93},{"x":164750,"y":-0.78},{"x":166750,"y":-0.86},{"x":168750,"y":-0.83},{"x":170750,"y":-0.77},{"x":172750,"y":-0.9},{"x":174750,"y":-0.8},{"x":176750,"y":-0.85},{"x":178750,"y":-0.75},{"x":180750,"y":-0.88},{"x":182750,"y":-0.82},{"x":184750,"y":-0.79},{"x":186750,"y":-0.91},{"x":188750,"y":-0.84},{"x":190750,"y":-0.76},
{"x":192750,"y":-0.87},{"x":194750,"y":-0.81},{"x":196750,"y":-0.73},{"x":198750,"y":-0.89},{"x":200750,"y":-0.83},{"x":202750,"y":-0.8},{"x":204750,"y":-0.92},{"x":206750,"y":-0.78},{"x":208750,"y":-0.85},{"x":210750,"y":-0.82},{"x":212750,"y":-0.75},{"x":214750,"y":-0.88},{"x":216750,"y":-0.84},{"x":218750,"y":-0.79},{"x":220750,"y":-0.9},{"x":222750,"y":-0.77},{"x":224750,"y":-0.86},{"x":226750,"y":-0.81},{"x":228750,"y":-0.94},{"x":230750,"y":-0.8},
{"x":232750,"y":-0.83},{"x":234750,"y":-0.76},{"x":236750,"y":-0.87},{"x":238750,"y":-0.82},{"x":240750,"y":-0.89},{"x":242750,"y":-0.74},{"x":244750,"y":-0.85},{"x":246750,"y":-0.8},{"x":248750,"y":-0.91},{"x":250750,"y":-0.78},{"x":252750,"y":-0.84},{"x":254750,"y":-0.81},{"x":256750,"y":-0.88},{"x":258750,"y":-0.75},{"x":260750,"y":-0.86},{"x":262750,"y":-0.83},{"x":264750,"y":-0.79},{"x":266750,"y":-0.92},{"x":268750,"y":-0.8},{"x":270750,"y":-0.77},
{"x":272750,"y":-0.85},{"x":274750,"y":-0.9},{"x":276750,"y":-0.82},{"x":278750,"y":-0.73},{"x":280750,"y":-0.87},{"x":282750,"y":-0.81},{"x":284750,"y":-0.84},{"x":286750,"y":-0.93},{"x":288750,"y":-0.78},{"x":290750,"y":-0.86},{"x":292750,"y":-0.8},{"x":294750,"y":-0.76},{"x":296750,"y":-0.89},{"x":298750,"y":-0.83},{"x":300750,"y":-0.79},{"x":302750,"y":-0.91},{"x":304750,"y":-0.85},{"x":306750,"y":-0.74},{"x":308750,"y":-0.82},{"x":310750,"y":-0.88},
{"x":312750,"y":-0.8},{"x":314750,"y":-0.84},{"x":316750,"y":-0.77},{"x":318750,"y":-0.9},{"x":320750,"y":-0.81},{"x":322750,"y":-0.86},{"x":324750,"y":-0.75},{"x":326750,"y":-0.92},{"x":328750,"y":-0.83},{"x":330750,"y":-0.79},{"x":332750,"y":-0.87},{"x":334750,"y":-0.82},{"x":336750,"y":-0.94},{"x":338750,"y":-0.76},{"x":340750,"y":-0.85},{"x":342750,"y":-0.8},{"x":344750,"y":-0.89},{"x":346750,"y":-0.78},{"x":348750,"y":-0.84},{"x":350750,"y":-0.81},
{"x":352750,"y":-0.73},{"x":354750,"y":-0.88},{"x":356750,"y":-0.83},{"x":358750,"y":-0.9},{"x":360750,"y":-0.79},{"x":362750,"y":-0.86},{"x":364750,"y":-0.82},{"x":366750,"y":-0.77},{"x":368750,"y":-0.91},{"x":370750,"y":-0.84},{"x":372750,"y":-0.8},{"x":374750,"y":-0.87},{"x":376750,"y":-0.75},{"x":378750,"y":-0.85},{"x":380750,"y":-0.81},{"x":382750,"y":-0.93},{"x":384750,"y":-0.78},{"x":386750,"y":-0.83},{"x":388750,"y":-0.89},{"x":390750,"y":-0.8},
{"x":392750,"y":-0.76},{"x":394750,"y":-0.86},{"x":396750,"y":-0.82},{"x":398750,"y":-0.9},{"x":400750,"y":-0.84},{"x":402750,"y":-0.74},{"x":404750,"y":-0.88},{"x":406750,"y":-0.81},{"x":408750,"y":-0.79},{"x":410750,"y":-0.92},{"x":412750,"y":-0.83},{"x":414750,"y":-0.77},{"x":416750,"y":-0.87},{"x":418750,"y":-0.8},{"x":420750,"y":-0.85},{"x":422750,"y":-0.95},{"x":424750,"y":-0.82},{"x":426750,"y":-0.78},{"x":428750,"y":-0.9},{"x":430750,"y":-0.84},
{"x":432750,"y":-0.76},{"x":434750,"y":-0.88},{"x":436750,"y":-0.81},{"x":438750,"y":-0.93},{"x":440750,"y":-0.79},{"x":442750,"y":-0.86},{"x":444750,"y":-0.83},{"x":446750,"y":-0.97},{"x":448750,"y":-0.8},{"x":450750,"y":-0.72},{"x":452750,"y":-0.89},{"x":454750,"y":-0.84},{"x":456750,"y":-0.92},{"x":458750,"y":-0.78},{"x":460750,"y":-0.87},{"x":462750,"y":-0.82},{"x":464750,"y":-0.95},{"x":466750,"y":-0.8},{"x":468750,"y":-0.75},{"x":470750,"y":-0.9},
{"x":472750,"y":-0.85},{"x":474750,"y":-0.96},{"x":476750,"y":-0.81},{"x":478750,"y":-0.7},{"x":480750,"y":-0.88},{"x":482750,"y":-0.83},{"x":484750,"y":-0.94},{"x":486750,"y":-0.79},{"x":488750,"y":-0.86},{"x":490750,"y":-0.9},{"x":492750,"y":-0.82},{"x":494750,"y":-0.97},{"x":496750,"y":-0.77}],
"e_col":[{"x":0,"y":0.0064},{"x":6000,"y":0.0075},{"x":12000,"y":0.0093},{"x":18000,"y":0.0112},{"x":24000,"y":0.0123},{"x":30000,"y":0.0121},{"x":36000,"y":0.0106},{"x":42000,"y":0.0086},{"x":48000,"y":0.0071},{"x":54000,"y":0.0064},{"x":60000,"y":0.0072},{"x":66000,"y":0.009},{"x":72000,"y":0.0109},{"x":78000,"y":0.0122},{"x":84000,"y":0.0122},{"x":90000,"y":0.0108},{"x":96000,"y":0.0089},{"x":102000,"y":0.0073},{"x":108000,"y":0.0065},{"x":114000,"y":0.007},{"x":120000,"y":0.0086},{"x":126000,"y":0.0106},{"x":132000,"y":0.0121},{"x":138000,"y":0.0123},{"x":144000,"y":0.0111},{"x":150000,"y":0.0093},{"x":156000,"y":0.0076},{"x":162000,"y":0.0065},{"x":168000,"y":0.0068},{"x":174000,"y":0.0083},{"x":180000,"y":0.0103},{"x":186000,"y":0.0119},{"x":192000,"y":0.0124},{"x":198000,"y":0.0114},{"x":204000,"y":0.0096},{"x":210000,"y":0.0078},{"x":216000,"y":0.0066},{"x":222000,"y":0.0067},{"x":228000,"y":0.0081},{"x":234000,"y":0.01},{"x":240000,"y":0.0117},{"x":246000,"y":0.0124},{"x":252000,"y":0.0117},{"x":258000,"y":0.0099},{"x":264000,"y":0.008},{"x":270000,"y":0.0066},{"x":276000,"y":0.0065},{"x":282000,"y":0.0077},{"x":288000,"y":0.0097},{"x":294000,"y":0.0115},{"x":300000,"y":0.0124},{"x":306000,"y":0.0119},{"x":312000,"y":0.0103},{"x":318000,"y":0.0083},{"x":324000,"y":0.0068},{"x":330000,"y":0.0064},{"x":336000,"y":0.0075},{"x":342000,"y":0.0093},{"x":348000,"y":0.0112},{"x":354000,"y":0.0123},{"x":360000,"y":0.0121},{"x":366000,"y":0.0106},{"x":372000,"y":0.0086},{"x":378000,"y":0.0071},{"x":384000,"y":0.0064},{"x":390000,"y":0.0072},{"x":396000,"y":0.009},{"x":402000,"y":0.0109},{"x":408000,"y":0.0122},{"x":414000,"y":0.0122},{"x":420000,"y":0.0108},{"x":426000,"y":0.0089},{"x":432000,"y":0.0073},{"x":438000,"y":0.0065},{"x":444000,"y":0.007},{"x":450000,"y":0.0086},{"x":456000,"y":0.0106},{"x":462000,"y":0.0121},{"x":468000,"y":0.0123},{"x":474000,"y":0.0111},{"x":480000,"y":0.0093},{"x":486000,"y":0.0076},{"x":492000,"y":0.0065},{"x":498000,"y":0.0068}],
"e_row":[
{"k":1,"x":0,"y":-0.0056},{"k":1,"x":90000,"y":-0.005},{"k":1,"x":152000,"y":-0.007},{"k":1,"x":210000,"y":-0.005},{"k":1,"x":272000,"y":-0.007},{"k":1,"x":330000,"y":-0.005},{"k":1,"x":385000,"y":-0.007},{"k":1,"x":440000,"y":-0.005},{"k":1,"x":470000,"y":-0.0064},{"k":1,"x":500000,"y":-0.0054},
{"k":2,"x":0,"y":-0.0129},{"k":2,"x":90000,"y":-0.012},{"k":2,"x":152000,"y":-0.015},{"k":2,"x":210000,"y":-0.012},{"k":2,"x":272000,"y":-0.015},{"k":2,"x":330000,"y":-0.012},{"k":2,"x":385000,"y":-0.015},{"k":2,"x":440000,"y":-0.012},{"k":2,"x":470000,"y":-0.0141},{"k":2,"x":500000,"y":-0.0126},
{"k":3,"x":0,"y":-0.0202},{"k":3,"x":90000,"y":-0.019},{"k":3,"x":152000,"y":-0.023},{"k":3,"x":210000,"y":-0.019},{"k":3,"x":272000,"y":-0.023},{"k":3,"x":330000,"y":-0.019},{"k":3,"x":385000,"y":-0.023},{"k":3,"x":440000,"y":-0.019},{"k":3,"x":470000,"y":-0.0218},{"k":3,"x":500000,"y":-0.0198},
{"k":4,"x":0,"y":-0.0285},{"k":4,"x":90000,"y":-0.027},{"k":4,"x":152000,"y":-0.032},{"k":4,"x":210000,"y":-0.027},{"k":4,"x":272000,"y":-0.032},{"k":4,"x":330000,"y":-0.027},{"k":4,"x":385000,"y":-0.032},{"k":4,"x":440000,"y":-0.027},{"k":4,"x":470000,"y":-0.0305},{"k":4,"x":500000,"y":-0.028},
{"k":5,"x":0,"y":-0.0378},{"k":5,"x":90000,"y":-0.036},{"k":5,"x":152000,"y":-0.042},{"k":5,"x":210000,"y":-0.036},{"k":5,"x":272000,"y":-0.042},{"k":5,"x":330000,"y":-0.036},{"k":5,"x":385000,"y":-0.042},{"k":5,"x":440000,"y":-0.036},{"k":5,"x":470000,"y":-0.0402},{"k":5,"x":500000,"y":-0.0372},
{"k":6,"x":0,"y":-0.0484},{"k":6,"x":90000,"y":-0.046},{"k":6,"x":152000,"y":-0.054},{"k":6,"x":210000,"y":-0.046},{"k":6,"x":272000,"y":-0.054},{"k":6,"x":330000,"y":-0.046},{"k":6,"x":385000,"y":-0.054},{"k":6,"x":440000,"y":-0.046},{"k":6,"x":470000,"y":-0.0516},{"k":6,"x":500000,"y":-0.0476},
{"k":7,"x":0,"y":-0.0597},{"k":7,"x":90000,"y":-0.057},{"k":7,"x":152000,"y":-0.066},{"k":7,"x":210000,"y":-0.057},{"k":7,"x":272000,"y":-0.066},{"k":7,"x":330000,"y":-0.057},{"k":7,"x":385000,"y":-0.066},{"k":7,"x":440000,"y":-0.057},{"k":7,"x":470000,"y":-0.0633},{"k":7,"x":500000,"y":-0.0588},
{"k":8,"x":0,"y":-0.0713},{"k":8,"x":90000,"y":-0.068},{"k":8,"x":152000,"y":-0.079},{"k":8,"x":210000,"y":-0.068},{"k":8,"x":272000,"y":-0.079},{"k":8,"x":330000,"y":-0.068},{"k":8,"x":385000,"y":-0.079},{"k":8,"x":440000,"y":-0.068},{"k":8,"x":470000,"y":-0.0757},{"k":8,"x":500000,"y":-0.0702},
{"k":9,"x":0,"y":-0.0836},{"k":9,"x":90000,"y":-0.08},{"k":9,"x":152000,"y":-0.092},{"k":9,"x":210000,"y":-0.08},{"k":9,"x":272000,"y":-0.092},{"k":9,"x":330000,"y":-0.08},{"k":9,"x":385000,"y":-0.092},{"k":9,"x":440000,"y":-0.08},{"k":9,"x":470000,"y":-0.0884},{"k":9,"x":500000,"y":-0.0824},
{"k":10,"x":0,"y":-0.0972},{"k":10,"x":90000,"y":-0.093},{"k":10,"x":152000,"y":-0.107},{"k":10,"x":210000,"y":-0.093},{"k":10,"x":272000,"y":-0.107},{"k":10,"x":330000,"y":-0.093},{"k":10,"x":385000,"y":-0.107},{"k":10,"x":440000,"y":-0.093},{"k":10,"x":470000,"y":-0.1028},{"k":10,"x":500000,"y":-0.0958},
{"k":11,"x":0,"y":-0.1105},{"k":11,"x":90000,"y":-0.106},{"k":11,"x":152000,"y":-0.121},{"k":11,"x":210000,"y":-0.106},{"k":11,"x":272000,"y":-0.121},{"k":11,"x":330000,"y":-0.106},{"k":11,"x":385000,"y":-0.121},{"k":11,"x":440000,"y":-0.106},{"k":11,"x":470000,"y":-0.1165},{"k":11,"x":500000,"y":-0.109},
{"k":12,"x":0,"y":-0.1248},{"k":12,"x":90000,"y":-0.12},{"k":12,"x":152000,"y":-0.136},{"k":12,"x":210000,"y":-0.12},{"k":12,"x":272000,"y":-0.136},{"k":12,"x":330000,"y":-0.12},{"k":12,"x":385000,"y":-0.136},{"k":12,"x":440000,"y":-0.12},{"k":12,"x":470000,"y":-0.1312},{"k":12,"x":500000,"y":-0.1232},
{"k":13,"x":0,"y":-0.1391},{"k":13,"x":90000,"y":-0.134},{"k":13,"x":152000,"y":-0.151},{"k":13,"x":210000,"y":-0.134},{"k":13,"x":272000,"y":-0.151},{"k":13,"x":330000,"y":-0.134},{"k":13,"x":385000,"y":-0.151},{"k":13,"x":440000,"y":-0.134},{"k":13,"x":470000,"y":-0.1459},{"k":13,"x":500000,"y":-0.1374},
{"k":14,"x":0,"y":-0.1544},{"k":14,"x":90000,"y":-0.149},{"k":14,"x":152000,"y":-0.167},{"k":14,"x":210000,"y":-0.149},{"k":14,"x":272000,"y":-0.167},{"k":14,"x":330000,"y":-0.149},{"k":14,"x":385000,"y":-0.167},{"k":14,"x":440000,"y":-0.149},{"k":14,"x":470000,"y":-0.1616},{"k":14,"x":500000,"y":-0.1526},
{"k":15,"x":0,"y":-0.1694},{"k":15,"x":90000,"y":-0.164},{"k":15,"x":152000,"y":-0.182},{"k":15,"x":210000,"y":-0.164},{"k":15,"x":272000,"y":-0.182},{"k":15,"x":330000,"y":-0.164},{"k":15,"x":385000,"y":-0.182},{"k":15,"x":440000,"y":-0.164},{"k":15,"x":470000,"y":-0.1766},{"k":15,"x":500000,"y":-0.1676},
{"k":16,"x":0,"y":-0.1854},{"k":16,"x":90000,"y":-0.18},{"k":16,"x":152000,"y":-0.198},{"k":16,"x":210000,"y":-0.18},{"k":16,"x":272000,"y":-0.198},{"k":16,"x":330000,"y":-0.18},{"k":16,"x":385000,"y":-0.198},{"k":16,"x":440000,"y":-0.18},{"k":16,"x":470000,"y":-0.1926},{"k":16,"x":500000,"y":-0.1836},
{"k":17,"x":0,"y":-0.2014},{"k":17,"x":90000,"y":-0.196},{"k":17,"x":152000,"y":-0.214},{"k":17,"x":210000,"y":-0.196},{"k":17,"x":272000,"y":-0.214},{"k":17,"x":330000,"y":-0.196},{"k":17,"x":385000,"y":-0.214},{"k":17,"x":440000,"y":-0.196},{"k":17,"x":470000,"y":-0.2086},{"k":17,"x":500000,"y":-0.1996},
{"k":18,"x":0,"y":-0.2171},{"k":18,"x":90000,"y":-0.212},{"k":18,"x":152000,"y":-0.229},{"k":18,"x":210000,"y":-0.212},{"k":18,"x":272000,"y":-0.229},{"k":18,"x":330000,"y":-0.212},{"k":18,"x":385000,"y":-0.229},{"k":18,"x":440000,"y":-0.212},{"k":18,"x":470000,"y":-0.2239},{"k":18,"x":500000,"y":-0.2154},
{"k":19,"x":0,"y":-0.2328},{"k":19,"x":90000,"y":-0.228},{"k":19,"x":152000,"y":-0.244},{"k":19,"x":210000,"y":-0.228},{"k":19,"x":272000,"y":-0.244},{"k":19,"x":330000,"y":-0.228},{"k":19,"x":385000,"y":-0.244},{"k":19,"x":440000,"y":-0.228},{"k":19,"x":470000,"y":-0.2392},{"k":19,"x":500000,"y":-0.2312},
{"k":20,"x":0,"y":-0.2485},{"k":20,"x":90000,"y":-0.244},{"k":20,"x":152000,"y":-0.259},{"k":20,"x":210000,"y":-0.244},{"k":20,"x":272000,"y":-0.259},{"k":20,"x":330000,"y":-0.244},{"k":20,"x":385000,"y":-0.259},{"k":20,"x":440000,"y":-0.244},{"k":20,"x":470000,"y":-0.2545},{"k":20,"x":500000,"y":-0.247},
{"k":21,"x":0,"y":-0.2642},{"k":21,"x":90000,"y":-0.26},{"k":21,"x":152000,"y":-0.274},{"k":21,"x":210000,"y":-0.26},{"k":21,"x":272000,"y":-0.274},{"k":21,"x":330000,"y":-0.26},{"k":21,"x":385000,"y":-0.274},{"k":21,"x":440000,"y":-0.26},{"k":21,"x":470000,"y":-0.2698},{"k":21,"x":500000,"y":-0.2628},
{"k":22,"x":0,"y":-0.2786},{"k":22,"x":90000,"y":-0.275},{"k":22,"x":152000,"y":-0.287},{"k":22,"x":210000,"y":-0.275},{"k":22,"x":272000,"y":-0.287},{"k":22,"x":330000,"y":-0.275},{"k":22,"x":385000,"y":-0.287},{"k":22,"x":440000,"y":-0.275},{"k":22,"x":470000,"y":-0.2834},{"k":22,"x":500000,"y":-0.2774},
{"k":23,"x":0,"y":-0.293},{"k":23,"x":90000,"y":-0.29},{"k":23,"x":152000,"y":-0.3},{"k":23,"x":210000,"y":-0.29},{"k":23,"x":272000,"y":-0.3},{"k":23,"x":330000,"y":-0.29},{"k":23,"x":385000,"y":-0.3},{"k":23,"x":440000,"y":-0.29},{"k":23,"x":470000,"y":-0.297},{"k":23,"x":500000,"y":-0.292},
{"k":24,"x":0,"y":-0.3064},{"k":24,"x":90000,"y":-0.304},{"k":24,"x":152000,"y":-0.312},{"k":24,"x":210000,"y":-0.304},{"k":24,"x":272000,"y":-0.312},{"k":24,"x":330000,"y":-0.304},{"k":24,"x":385000,"y":-0.312},{"k":24,"x":440000,"y":-0.304},{"k":24,"x":470000,"y":-0.3096},{"k":24,"x":500000,"y":-0.3056},
{"k":25,"x":0,"y":-0.3178},{"k":25,"x":90000,"y":-0.316},{"k":25,"x":152000,"y":-0.322},{"k":25,"x":210000,"y":-0.316},{"k":25,"x":272000,"y":-0.322},{"k":25,"x":330000,"y":-0.316},{"k":25,"x":385000,"y":-0.322},{"k":25,"x":440000,"y":-0.316},{"k":25,"x":470000,"y":-0.3202},{"k":25,"x":500000,"y":-0.3172},
{"k":26,"x":0,"y":-0.3272},{"k":26,"x":90000,"y":-0.326},{"k":26,"x":152000,"y":-0.33},{"k":26,"x":210000,"y":-0.326},{"k":26,"x":272000,"y":-0.33},{"k":26,"x":330000,"y":-0.326},{"k":26,"x":385000,"y":-0.33},{"k":26,"x":440000,"y":-0.326},{"k":26,"x":470000,"y":-0.3288},{"k":26,"x":500000,"y":-0.3268}],
"f_col":[{"x":0},{"x":6000},{"x":12000},{"x":18000},{"x":24000},{"x":30000},{"x":36000},{"x":42000},{"x":48000},{"x":54000},{"x":60000},{"x":66000},{"x":72000},{"x":78000},{"x":84000},{"x":90000},{"x":96000},{"x":102000},{"x":108000},{"x":114000},{"x":120000},{"x":126000},{"x":132000},{"x":138000},{"x":144000},{"x":150000},{"x":156000},{"x":162000},{"x":168000},{"x":174000},{"x":180000},{"x":186000},{"x":192000},{"x":198000},{"x":204000},{"x":210000},{"x":216000},{"x":222000},{"x":228000},{"x":234000},{"x":240000},{"x":246000},{"x":252000},{"x":258000},{"x":264000},{"x":270000},{"x":276000},{"x":282000},{"x":288000},{"x":294000},{"x":300000},{"x":306000},{"x":312000},{"x":318000},{"x":324000},{"x":330000},{"x":336000},{"x":342000},{"x":348000},{"x":354000},{"x":360000},{"x":366000},{"x":372000},{"x":378000},{"x":384000},{"x":390000},{"x":396000},{"x":402000},{"x":408000},{"x":414000},{"x":420000},{"x":426000},{"x":432000},{"x":438000},{"x":444000},{"x":450000},{"x":456000},{"x":462000},{"x":468000},{"x":474000},{"x":480000},{"x":486000},{"x":492000},{"x":498000}],
"f_row":[
{"k":1,"x":0,"y":3.898},{"k":1,"x":90000,"y":3.88},{"k":1,"x":152000,"y":3.94},{"k":1,"x":210000,"y":3.88},{"k":1,"x":272000,"y":3.94},{"k":1,"x":330000,"y":3.88},{"k":1,"x":385000,"y":3.94},{"k":1,"x":440000,"y":3.88},{"k":1,"x":470000,"y":3.922},{"k":1,"x":500000,"y":3.892},
{"k":2,"x":0,"y":3.798},{"k":2,"x":90000,"y":3.78},{"k":2,"x":152000,"y":3.84},{"k":2,"x":210000,"y":3.78},{"k":2,"x":272000,"y":3.84},{"k":2,"x":330000,"y":3.78},{"k":2,"x":385000,"y":3.84},{"k":2,"x":440000,"y":3.78},{"k":2,"x":470000,"y":3.822},{"k":2,"x":500000,"y":3.792},
{"k":3,"x":0,"y":3.681},{"k":3,"x":90000,"y":3.66},{"k":3,"x":152000,"y":3.73},{"k":3,"x":210000,"y":3.66},{"k":3,"x":272000,"y":3.73},{"k":3,"x":330000,"y":3.66},{"k":3,"x":385000,"y":3.73},{"k":3,"x":440000,"y":3.66},{"k":3,"x":470000,"y":3.709},{"k":3,"x":500000,"y":3.674},
{"k":4,"x":0,"y":3.554},{"k":4,"x":90000,"y":3.53},{"k":4,"x":152000,"y":3.61},{"k":4,"x":210000,"y":3.53},{"k":4,"x":272000,"y":3.61},{"k":4,"x":330000,"y":3.53},{"k":4,"x":385000,"y":3.61},{"k":4,"x":440000,"y":3.53},{"k":4,"x":470000,"y":3.586},{"k":4,"x":500000,"y":3.546},
{"k":5,"x":0,"y":3.424},{"k":5,"x":90000,"y":3.4},{"k":5,"x":152000,"y":3.48},{"k":5,"x":210000,"y":3.4},{"k":5,"x":272000,"y":3.48},{"k":5,"x":330000,"y":3.4},{"k":5,"x":385000,"y":3.48},{"k":5,"x":440000,"y":3.4},{"k":5,"x":470000,"y":3.456},{"k":5,"x":500000,"y":3.416},
{"k":6,"x":0,"y":3.284},{"k":6,"x":90000,"y":3.26},{"k":6,"x":152000,"y":3.34},{"k":6,"x":210000,"y":3.26},{"k":6,"x":272000,"y":3.34},{"k":6,"x":330000,"y":3.26},{"k":6,"x":385000,"y":3.34},{"k":6,"x":440000,"y":3.26},{"k":6,"x":470000,"y":3.316},{"k":6,"x":500000,"y":3.276},
{"k":7,"x":0,"y":3.144},{"k":7,"x":90000,"y":3.12},{"k":7,"x":152000,"y":3.2},{"k":7,"x":210000,"y":3.12},{"k":7,"x":272000,"y":3.2},{"k":7,"x":330000,"y":3.12},{"k":7,"x":385000,"y":3.2},{"k":7,"x":440000,"y":3.12},{"k":7,"x":470000,"y":3.176},{"k":7,"x":500000,"y":3.136},
{"k":8,"x":0,"y":3.004},{"k":8,"x":90000,"y":2.98},{"k":8,"x":152000,"y":3.06},{"k":8,"x":210000,"y":2.98},{"k":8,"x":272000,"y":3.06},{"k":8,"x":330000,"y":2.98},{"k":8,"x":385000,"y":3.06},{"k":8,"x":440000,"y":2.98},{"k":8,"x":470000,"y":3.036},{"k":8,"x":500000,"y":2.996},
{"k":9,"x":0,"y":2.874},{"k":9,"x":90000,"y":2.85},{"k":9,"x":152000,"y":2.93},{"k":9,"x":210000,"y":2.85},{"k":9,"x":272000,"y":2.93},{"k":9,"x":330000,"y":2.85},{"k":9,"x":385000,"y":2.93},{"k":9,"x":440000,"y":2.85},{"k":9,"x":470000,"y":2.906},{"k":9,"x":500000,"y":2.866},
{"k":10,"x":0,"y":2.744},{"k":10,"x":90000,"y":2.72},{"k":10,"x":152000,"y":2.8},{"k":10,"x":210000,"y":2.72},{"k":10,"x":272000,"y":2.8},{"k":10,"x":330000,"y":2.72},{"k":10,"x":385000,"y":2.8},{"k":10,"x":440000,"y":2.72},{"k":10,"x":470000,"y":2.776},{"k":10,"x":500000,"y":2.736},
{"k":11,"x":0,"y":2.614},{"k":11,"x":90000,"y":2.59},{"k":11,"x":152000,"y":2.67},{"k":11,"x":210000,"y":2.59},{"k":11,"x":272000,"y":2.67},{"k":11,"x":330000,"y":2.59},{"k":11,"x":385000,"y":2.67},{"k":11,"x":440000,"y":2.59},{"k":11,"x":470000,"y":2.646},{"k":11,"x":500000,"y":2.606},
{"k":12,"x":0,"y":2.491},{"k":12,"x":90000,"y":2.47},{"k":12,"x":152000,"y":2.54},{"k":12,"x":210000,"y":2.47},{"k":12,"x":272000,"y":2.54},{"k":12,"x":330000,"y":2.47},{"k":12,"x":385000,"y":2.54},{"k":12,"x":440000,"y":2.47},{"k":12,"x":470000,"y":2.519},{"k":12,"x":500000,"y":2.484},
{"k":13,"x":0,"y":2.371},{"k":13,"x":90000,"y":2.35},{"k":13,"x":152000,"y":2.42},{"k":13,"x":210000,"y":2.35},{"k":13,"x":272000,"y":2.42},{"k":13,"x":330000,"y":2.35},{"k":13,"x":385000,"y":2.42},{"k":13,"x":440000,"y":2.35},{"k":13,"x":470000,"y":2.399},{"k":13,"x":500000,"y":2.364},
{"k":14,"x":0,"y":2.251},{"k":14,"x":90000,"y":2.23},{"k":14,"x":152000,"y":2.3},{"k":14,"x":210000,"y":2.23},{"k":14,"x":272000,"y":2.3},{"k":14,"x":330000,"y":2.23},{"k":14,"x":385000,"y":2.3},{"k":14,"x":440000,"y":2.23},{"k":14,"x":470000,"y":2.279},{"k":14,"x":500000,"y":2.244},
{"k":15,"x":0,"y":2.141},{"k":15,"x":90000,"y":2.12},{"k":15,"x":152000,"y":2.19},{"k":15,"x":210000,"y":2.12},{"k":15,"x":272000,"y":2.19},{"k":15,"x":330000,"y":2.12},{"k":15,"x":385000,"y":2.19},{"k":15,"x":440000,"y":2.12},{"k":15,"x":470000,"y":2.169},{"k":15,"x":500000,"y":2.134},
{"k":16,"x":0,"y":2.03},{"k":16,"x":90000,"y":2.01},{"k":16,"x":152000,"y":2.075},{"k":16,"x":210000,"y":2.01},{"k":16,"x":272000,"y":2.075},{"k":16,"x":330000,"y":2.01},{"k":16,"x":385000,"y":2.075},{"k":16,"x":440000,"y":2.01},{"k":16,"x":470000,"y":2.056},{"k":16,"x":500000,"y":2.023},
{"k":17,"x":0,"y":1.928},{"k":17,"x":90000,"y":1.91},{"k":17,"x":152000,"y":1.97},{"k":17,"x":210000,"y":1.91},{"k":17,"x":272000,"y":1.97},{"k":17,"x":330000,"y":1.91},{"k":17,"x":385000,"y":1.97},{"k":17,"x":440000,"y":1.91},{"k":17,"x":470000,"y":1.952},{"k":17,"x":500000,"y":1.922},
{"k":18,"x":0,"y":1.827},{"k":18,"x":90000,"y":1.81},{"k":18,"x":152000,"y":1.865},{"k":18,"x":210000,"y":1.81},{"k":18,"x":272000,"y":1.865},{"k":18,"x":330000,"y":1.81},{"k":18,"x":385000,"y":1.865},{"k":18,"x":440000,"y":1.81},{"k":18,"x":470000,"y":1.849},{"k":18,"x":500000,"y":1.821},
{"k":19,"x":0,"y":1.735},{"k":19,"x":90000,"y":1.72},{"k":19,"x":152000,"y":1.77},{"k":19,"x":210000,"y":1.72},{"k":19,"x":272000,"y":1.77},{"k":19,"x":330000,"y":1.72},{"k":19,"x":385000,"y":1.77},{"k":19,"x":440000,"y":1.72},{"k":19,"x":470000,"y":1.755},{"k":19,"x":500000,"y":1.73},
{"k":20,"x":0,"y":1.645},{"k":20,"x":90000,"y":1.63},{"k":20,"x":152000,"y":1.68},{"k":20,"x":210000,"y":1.63},{"k":20,"x":272000,"y":1.68},{"k":20,"x":330000,"y":1.63},{"k":20,"x":385000,"y":1.68},{"k":20,"x":440000,"y":1.63},{"k":20,"x":470000,"y":1.665},{"k":20,"x":500000,"y":1.64},
{"k":21,"x":0,"y":1.564},{"k":21,"x":90000,"y":1.55},{"k":21,"x":152000,"y":1.595},{"k":21,"x":210000,"y":1.55},{"k":21,"x":272000,"y":1.595},{"k":21,"x":330000,"y":1.55},{"k":21,"x":385000,"y":1.595},{"k":21,"x":440000,"y":1.55},{"k":21,"x":470000,"y":1.582},{"k":21,"x":500000,"y":1.559},
{"k":22,"x":0,"y":1.482},{"k":22,"x":90000,"y":1.47},{"k":22,"x":152000,"y":1.51},{"k":22,"x":210000,"y":1.47},{"k":22,"x":272000,"y":1.51},{"k":22,"x":330000,"y":1.47},{"k":22,"x":385000,"y":1.51},{"k":22,"x":440000,"y":1.47},{"k":22,"x":470000,"y":1.498},{"k":22,"x":500000,"y":1.478},
{"k":23,"x":0,"y":1.41},{"k":23,"x":90000,"y":1.4},{"k":23,"x":152000,"y":1.435},{"k":23,"x":210000,"y":1.4},{"k":23,"x":272000,"y":1.435},{"k":23,"x":330000,"y":1.4},{"k":23,"x":385000,"y":1.435},{"k":23,"x":440000,"y":1.4},{"k":23,"x":470000,"y":1.425},{"k":23,"x":500000,"y":1.407},
{"k":24,"x":0,"y":1.349},{"k":24,"x":90000,"y":1.34},{"k":24,"x":152000,"y":1.37},{"k":24,"x":210000,"y":1.34},{"k":24,"x":272000,"y":1.37},{"k":24,"x":330000,"y":1.34},{"k":24,"x":385000,"y":1.37},{"k":24,"x":440000,"y":1.34},{"k":24,"x":470000,"y":1.361},{"k":24,"x":500000,"y":1.346},
{"k":25,"x":0,"y":1.288},{"k":25,"x":90000,"y":1.28},{"k":25,"x":152000,"y":1.305},{"k":25,"x":210000,"y":1.28},{"k":25,"x":272000,"y":1.305},{"k":25,"x":330000,"y":1.28},{"k":25,"x":385000,"y":1.305},{"k":25,"x":440000,"y":1.28},{"k":25,"x":470000,"y":1.298},{"k":25,"x":500000,"y":1.285}]
},
"vconcat":[
{"bounds":"flush","spacing":0,"hconcat":[
{"width":131,"height":329,"view":{"stroke":null},"data":{"values":[]},"mark":"point"},
{"width":364,"height":329,"title":{"text":"A.","dx":-112,"dy":43},"data":{"name":"a"},"mark":{"type":"square","size":28},
 "encoding":{
  "x":{"field":"x","type":"quantitative","scale":{"domain":[0,500000],"nice":false,"zero":false},"axis":{"values":[0,100000,200000,300000,400000,500000],"format":",d","title":"Steps"}},
  "y":{"field":"y","type":"quantitative","scale":{"domain":[0,2],"nice":false,"zero":false},"axis":{"values":[0,0.2,0.4,0.6,0.8,1,1.2,1.4,1.6,1.8,2],"labelExpr":"'' + datum.value","title":["2Sᵛ","──","n_f ħ"],"titleX":-89,"titleY":142,"titleFontSize":34,"titleLineHeight":25}}}},
{"width":199,"height":329,"view":{"stroke":null},"data":{"values":[]},"mark":"point"},
{"width":361,"height":329,"title":{"text":"B.","dx":-114,"dy":43},"data":{"name":"b"},"mark":{"type":"square","size":50},
 "encoding":{
  "x":{"field":"x","type":"quantitative","scale":{"domain":[0,500000],"nice":false,"zero":false},"axis":{"values":[0,100000,200000,300000,400000,500000],"format":",d","title":"Steps"}},
  "y":{"field":"y","type":"quantitative","scale":{"domain":[0,1.068],"nice":false,"zero":false},"axis":{"values":[0,0.2,0.4,0.6,0.8,1],"labelExpr":"'' + datum.value","title":"s","titleX":-72,"titleY":167,"titleFontSize":40}}}},
{"width":326,"height":329,"view":{"stroke":null},"data":{"values":[]},"mark":"point"},
{"width":332,"height":329,"title":{"text":"C.","dx":-135,"dy":43},"data":{"name":"c"},"mark":{"type":"rule","strokeWidth":2.8},
 "encoding":{
  "x":{"field":"x","type":"quantitative","scale":{"domain":[0,500000],"nice":false,"zero":false},"axis":{"values":[0,100000,200000,300000,400000,500000],"format":",d","title":"Steps"}},
  "y":{"field":"y","type":"quantitative","scale":{"domain":[-0.001,0.001],"nice":false,"zero":false},"axis":{"values":[-0.001,-0.0008,-0.0006,-0.0004,-0.0002,0,0.0002,0.0004,0.0006,0.0008,0.001],"labelExpr":"'' + datum.value","title":["\u200b\u00a0Sˣ − S⁰","─────\u00a0100%","\u200b\u00a0\u00a0\u00a0\u00a0\u00a0S⁰"],"titleAlign":"left","titleX":-260,"titleY":145,"titleFontSize":30,"titleLineHeight":22}},
  "y2":{"datum":-0.000008}}}
]},
{"bounds":"flush","spacing":0,"hconcat":[
{"width":137,"height":329,"view":{"stroke":null},"data":{"values":[]},"mark":"point"},
{"width":358,"height":329,"title":{"text":"D.","dx":-124,"dy":44},"data":{"name":"d"},"mark":{"type":"square","size":32},
 "encoding":{
  "x":{"field":"x","type":"quantitative","scale":{"domain":[0,500000],"nice":false,"zero":false},"axis":{"values":[0,100000,200000,300000,400000,500000],"format":",d","title":"Steps"}},
  "y":{"field":"y","type":"quantitative","scale":{"domain":[-1.4,0],"nice":false,"zero":false},"axis":{"values":[-1.4,-1.2,-1,-0.8,-0.6,-0.4,-0.2,0],"labelExpr":"'' + datum.value","title":["Sᵍ","—","N"],"titleX":-92,"titleY":153,"titleFontSize":50,"titleLineHeight":31}}}},
{"width":213,"height":329,"view":{"stroke":null},"data":{"values":[]},"mark":"point"},
{"width":349,"height":329,"title":{"text":"E.","dx":-136,"dy":44},
 "encoding":{"x":{"field":"x","type":"quantitative","scale":{"domain":[0,500000],"nice":false,"zero":false},"axis":{"values":[0,100000,200000,300000,400000,500000],"format":",d","title":"Steps"}}},
 "layer":[
  {"data":{"name":"e_row"},"mark":{"type":"line","strokeWidth":2.8,"strokeDash":[3,1.3]},
   "encoding":{"y":{"field":"y","type":"quantitative","scale":{"domain":[-0.4,0.05],"nice":false,"zero":false},"axis":{"values":[-0.4,-0.35,-0.3,-0.25,-0.2,-0.15,-0.1,-0.05,0,0.05],"labelExpr":"'' + datum.value","title":["Sˡᵒᵍ","──","N"],"titleX":-96,"titleY":161,"titleFontSize":50,"titleLineHeight":27}},"detail":{"field":"k"}}},
  {"data":{"name":"e_col"},"mark":{"type":"rule","strokeWidth":3},"encoding":{"y":{"field":"y","type":"quantitative"},"y2":{"datum":-0.006}}},
  {"data":{"name":"e_col"},"mark":{"type":"rule","strokeWidth":3},"encoding":{"y":{"datum":-0.351,"type":"quantitative"},"y2":{"datum":-0.334}}}
 ]},
{"width":293,"height":329,"view":{"stroke":null},"data":{"values":[]},"mark":"point"},
{"width":364,"height":329,"title":{"text":"F.","dx":-110,"dy":44},
 "encoding":{"x":{"field":"x","type":"quantitative","scale":{"domain":[0,500000],"nice":false,"zero":false},"axis":{"values":[0,100000,200000,300000,400000,500000],"format":",d","title":"Steps"}}},
 "layer":[
  {"data":{"name":"f_row"},"mark":{"type":"line","strokeWidth":2.8,"strokeDash":[3,1.3]},
   "encoding":{"y":{"field":"y","type":"quantitative","scale":{"domain":[0,4.5],"nice":false,"zero":false},"axis":{"values":[0,0.5,1,1.5,2,2.5,3,3.5,4,4.5],"labelExpr":"'' + datum.value","title":["Vol (ℳ)","────────","Vol (ℳ) |λ=0"],"titleX":-133,"titleY":158,"titleFontSize":32,"titleLineHeight":22.5}},"detail":{"field":"k"}}},
  {"data":{"name":"f_col"},"mark":{"type":"rule","strokeWidth":3},"encoding":{"y":{"datum":0.955,"type":"quantitative"},"y2":{"datum":1.24}}},
  {"data":{"name":"f_col"},"mark":{"type":"rule","strokeWidth":3},"encoding":{"y":{"datum":3.97,"type":"quantitative"},"y2":{"datum":4.1}}}
 ]}
]}
]
}
